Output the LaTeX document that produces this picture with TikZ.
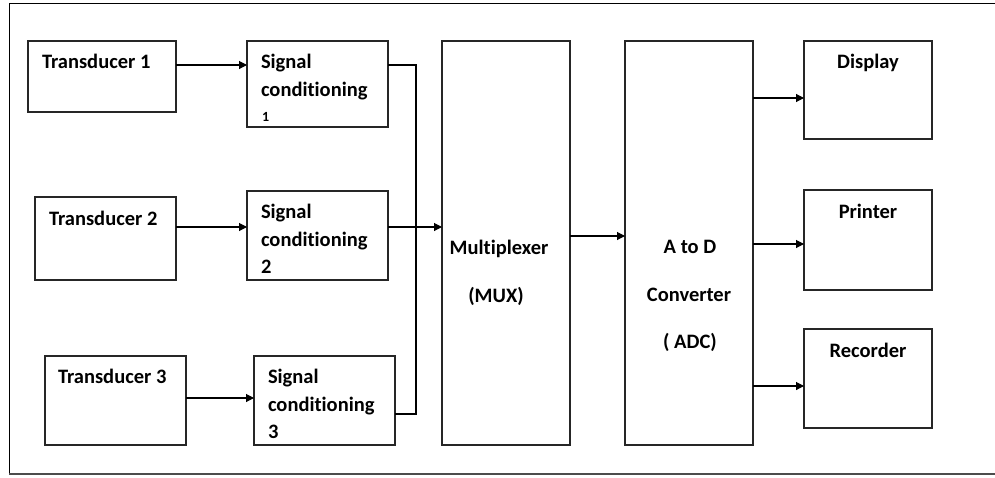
\documentclass[tikz,border=0pt]{standalone}
\usepackage{fontspec}
\setmainfont{Carlito}[Ligatures=NoCommon]
\usetikzlibrary{arrows.meta}
\tikzset{
  box/.style={draw=black!85, line width=1.1pt, inner sep=0pt, outer sep=0pt},
  lbl/.style={inner sep=0pt, outer sep=0pt, font=\fontsize{20.5}{24}\selectfont\bfseries},
  arr/.style={line width=1.1pt, -{Triangle[length=8pt,width=8pt]}},
  wire/.style={line width=1.1pt}
}
\begin{document}
\begin{tikzpicture}[x=1pt,y=-1pt]
\useasboundingbox (0,0) rectangle (995,477);
% outer frame
\draw[line width=1pt] (995,3) -- (9,3) -- (9,474);
\draw[line width=1.6pt, black!70] (9,474) -- (995,474);
% boxes
\node[box, minimum width=148pt, minimum height=71pt] (t1) at (102,76.5) {};
\node[box, minimum width=141pt, minimum height=86pt] (sc1) at (317.5,84) {};
\node[box, minimum width=141pt, minimum height=83pt] (t2) at (105.5,238.5) {};
\node[box, minimum width=141pt, minimum height=89pt] (sc2) at (317.5,235.5) {};
\node[box, minimum width=141pt, minimum height=89pt] (t3) at (115.5,400.5) {};
\node[box, minimum width=141pt, minimum height=89pt] (sc3) at (324.5,400.5) {};
\node[box, minimum width=128pt, minimum height=404pt] (mux) at (506,243) {};
\node[box, minimum width=128pt, minimum height=404pt] (adc) at (689,243) {};
\node[box, minimum width=128pt, minimum height=98pt] (disp) at (868,90) {};
\node[box, minimum width=128pt, minimum height=100pt] (prn) at (868,240) {};
\node[box, minimum width=128pt, minimum height=99pt] (rec) at (868,378.5) {};
% labels
\node[lbl, anchor=base west] (t1l) at (42,68) {Transducer 1};
\node[lbl, anchor=base west] (t2l) at (49,225) {Transducer 2};
\node[lbl, anchor=base west] (t3l) at (58,383) {Transducer 3};
\node[lbl, anchor=base west] (sc1a) at (261,68) {Signal};
\node[lbl, anchor=base west] (sc1b) at (261,96) {conditioning};
\node[lbl, anchor=base west, font=\fontsize{14}{16}\selectfont\bfseries] (sc1c) at (262,121) {1};
\node[lbl, anchor=base west] (sc2a) at (261,218) {Signal};
\node[lbl, anchor=base west] (sc2b) at (261,246) {conditioning};
\node[lbl, anchor=base west] (sc2c) at (261,273) {2};
\node[lbl, anchor=base west] (sc3a) at (268,383) {Signal};
\node[lbl, anchor=base west] (sc3b) at (268,411) {conditioning};
\node[lbl, anchor=base west] (sc3c) at (268,438) {3};
\node[lbl, anchor=base] (muxa) at (499,254) {Multiplexer};
\node[lbl, anchor=base] (muxb) at (496,302) {(MUX)};
\node[lbl, anchor=base] (adca) at (690,253) {A to D};
\node[lbl, anchor=base] (adcb) at (689,301) {Converter};
\node[lbl, anchor=base] (adcc) at (690,348) {( ADC)};
\node[lbl, anchor=base] (displ) at (868,68) {Display};
\node[lbl, anchor=base] (prnl) at (868,218) {Printer};
\node[lbl, anchor=base] (recl) at (868,357) {Recorder};
% row coordinates
\coordinate (r1) at (0,65);
\coordinate (r2) at (0,227);
\coordinate (r3) at (0,398);
\coordinate (r3b) at (0,414);
\coordinate (rm) at (0,236);
\coordinate (rd) at (0,98);
\coordinate (rp) at (0,244);
\coordinate (rr) at (0,386);
\coordinate (busTop) at (416,65);
\coordinate (busBot) at (416,414);
% connectors
\draw[arr] (t1.east |- r1) -- (sc1.west |- r1);
\draw[arr] (t2.east |- r2) -- (sc2.west |- r2);
\draw[arr] (t3.east |- r3) -- (sc3.west |- r3);
\draw[wire] (sc1.east |- r1) -- (busTop) -- (busBot) -- (sc3.east |- r3b);
\draw[arr] (sc2.east |- r2) -- (mux.west |- r2);
\draw[arr] (mux.east |- rm) -- (adc.west |- rm);
\draw[arr] (adc.east |- rd) -- (disp.west |- rd);
\draw[arr] (adc.east |- rp) -- (prn.west |- rp);
\draw[arr] (adc.east |- rr) -- (rec.west |- rr);
\end{tikzpicture}
\end{document}
